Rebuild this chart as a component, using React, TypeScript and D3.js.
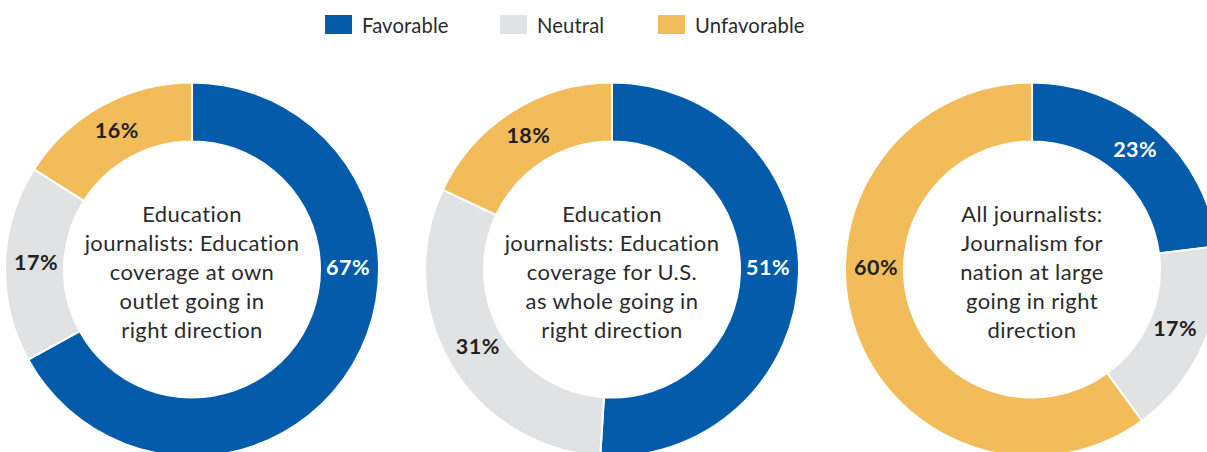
import React from "react";
import * as d3 from "d3";

const W = 1207;
const H = 452;

const categories = ["Favorable", "Neutral", "Unfavorable"];
const colors = ["#035BAA", "#E1E2E4", "#F3BC5B"];
const labelColors = ["#FFFFFF", "#231F20", "#231F20"];

const chart1Values = [67, 17, 16];
const chart2Values = [51, 31, 18];
const chart3Values = [23, 17, 60];

const chart1Title = ["Education", "journalists: Education", "coverage at own", "outlet going in", "right direction"];
const chart2Title = ["Education", "journalists: Education", "coverage for U.S.", "as whole going in", "right direction"];
const chart3Title = ["All journalists:", "Journalism for", "nation at large", "going in right", "direction"];

const charts = [
  { values: chart1Values, title: chart1Title },
  { values: chart2Values, title: chart2Title },
  { values: chart3Values, title: chart3Title },
];

const FONT = "Lato, 'Open Sans', sans-serif";

export default function App() {
  const outerR = 187;
  const innerR = 128;
  const labelR = 156;
  const cy = 269.5;
  const x = d3.scalePoint<number>().domain([0, 1, 2]).range([192, 1032]);
  const pie = d3.pie<number>().sort(null).value((d) => d);
  const arc = d3.arc<d3.PieArcDatum<number>>().innerRadius(innerR).outerRadius(outerR);

  const legendX = [325, 500, 658];

  return (
    <svg width={W} height={H} style={{ position: "absolute", left: 0, top: 0, background: "#fff" }} fontFamily={FONT}>
      {categories.map((c, i) => (
        <g key={c} transform={`translate(${legendX[i]},15)`}>
          <rect width={27} height={19} fill={colors[i]} />
          <text x={37} y={17.5} fontSize={20.3} letterSpacing={0.1} fill="#2b2b2b">
            {c}
          </text>
        </g>
      ))}
      {charts.map((ch, ci) => {
        const arcs = pie(ch.values);
        return (
          <g key={ci} transform={`translate(${x(ci)},${cy})`}>
            {arcs.map((a, i) => (
              <path key={i} d={arc(a) || ""} fill={colors[i]} stroke="#fff" strokeWidth={2} />
            ))}
            {arcs.map((a, i) => {
              let ang = (a.startAngle + a.endAngle) / 2;
              if (ch.values[i] > 50) ang = ang < Math.PI ? Math.PI / 2 : (3 * Math.PI) / 2;
              const lx = labelR * Math.sin(ang);
              const ly = -labelR * Math.cos(ang) - 3;
              return (
                <text key={"l" + i} x={lx} y={ly} textAnchor="middle" dominantBaseline="central" fontSize={21.5} fontWeight={700} letterSpacing={0.5} fill={labelColors[i]}>
                  {ch.values[i]}%
                </text>
              );
            })}
            {ch.title.map((t, li) => (
              <text key={"t" + li} x={0} y={(li - 2) * 29 + 10.2} textAnchor="middle" fontSize={22} letterSpacing={0.4} fill="#2b2b2b">
                {t}
              </text>
            ))}
          </g>
        );
      })}
    </svg>
  );
}
